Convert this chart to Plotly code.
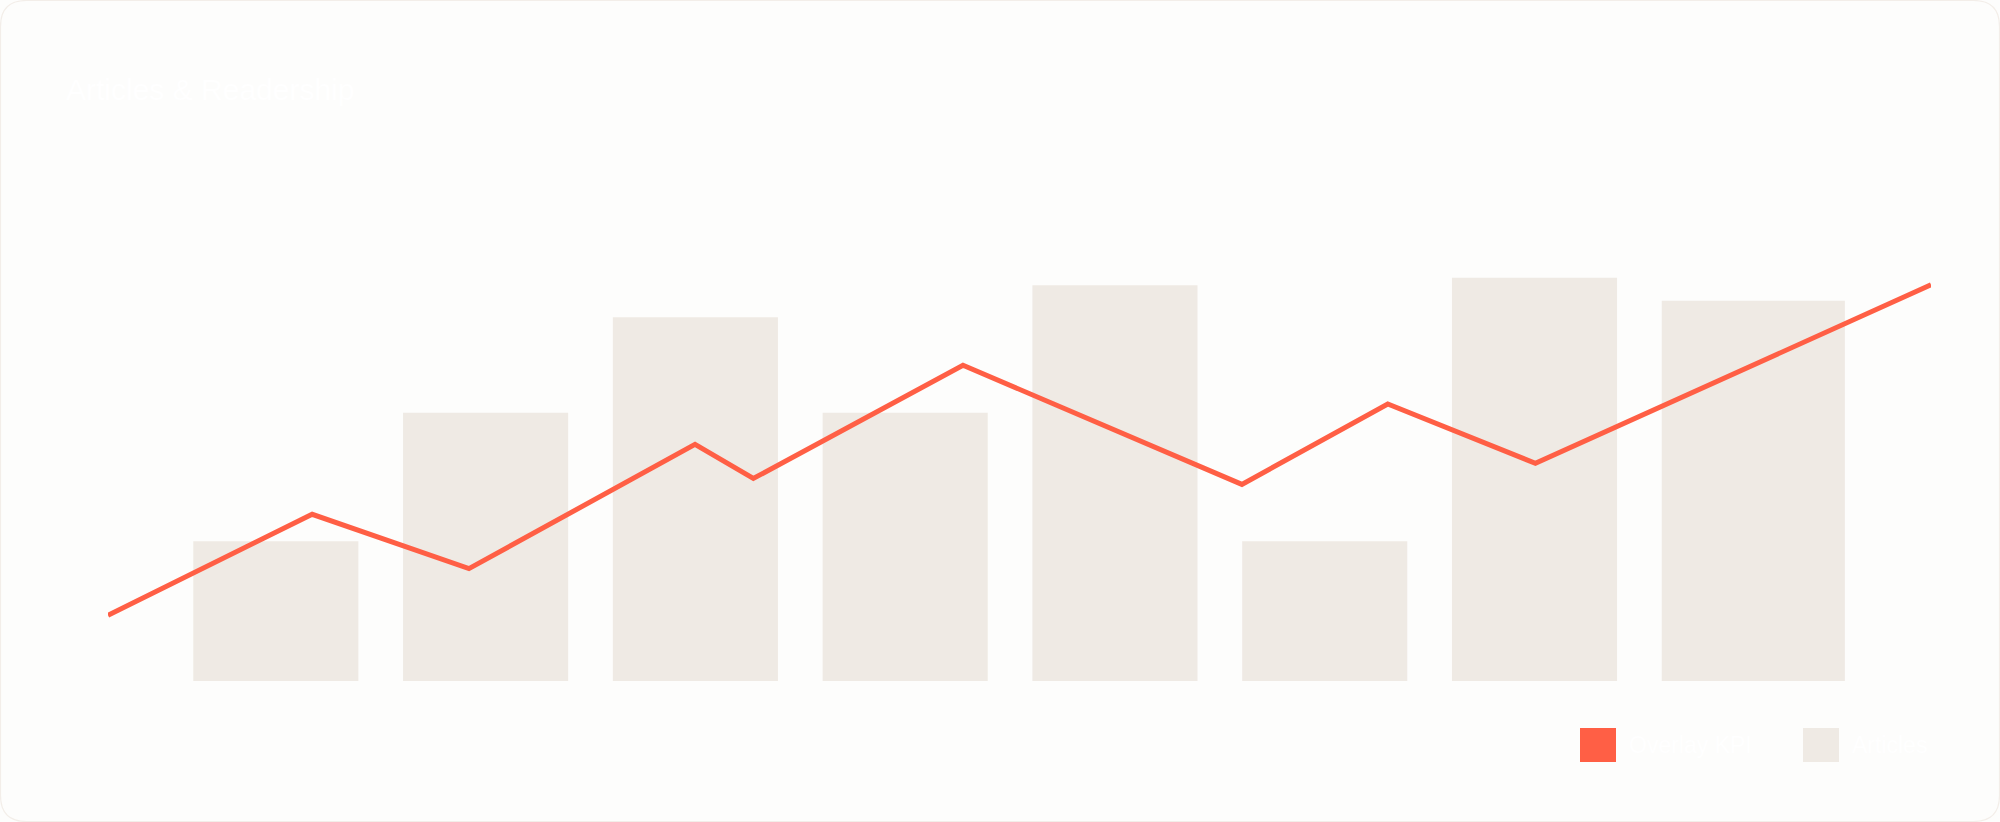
import plotly.graph_objects as go

# ---------------- data ----------------
categories = ["C1", "C2", "C3", "C4", "C5", "C6", "C7", "C8"]
articles = [33.2, 63.7, 86.4, 63.7, 94.0, 33.2, 95.8, 90.3]

kpi_x = [0, 11.2, 19.8, 32.2, 35.4, 46.9, 62.2, 70.2, 78.3, 100]
kpi_values = [15.6, 39.6, 26.7, 56.2, 48.1, 75.0, 46.7, 65.8, 51.7, 94.1]

title_text = "Articles & Readership"
legend_labels = ["Overlay KPI", "Articles"]

# ---------------- style ----------------
W, H = 2000, 822
ML, MR, MT, MB = 108, 69, 260, 141
LINE_COLOR = "#ff5f45"
BAR_COLOR = "#efeae4"
BG = "#fdfdfc"
TEXT = "#ffffff"
FONT = "Liberation Sans, Arial, sans-serif"

PW = W - ML - MR
PH = H - MT - MB

BAR_W = 0.787
bar_widths = [BAR_W] * (len(categories) - 1) + [0.873]
bar_offsets = [-BAR_W / 2] * len(categories)


def px_x(p):
    return (p - ML) / PW


def px_y(p):
    return (H - MB - p) / PH


fig = go.Figure()

fig.add_trace(go.Bar(
    x=categories, y=articles, name=legend_labels[1],
    width=bar_widths, offset=bar_offsets,
    marker=dict(color=BAR_COLOR, line=dict(width=0)),
    xaxis="x", yaxis="y", showlegend=False, hoverinfo="skip",
))

fig.add_trace(go.Scatter(
    x=kpi_x, y=kpi_values, name=legend_labels[0], mode="lines",
    line=dict(color=LINE_COLOR, width=5),
    xaxis="x2", yaxis="y2", showlegend=False, hoverinfo="skip",
))

# rounded card border
x0, y0, x1, y1, r = 0.5, 0.5, W - 0.5, H - 0.5, 26
pts = [
    ("M", (x0 + r, y0)), ("L", (x1 - r, y0)), ("Q", (x1, y0), (x1, y0 + r)),
    ("L", (x1, y1 - r)), ("Q", (x1, y1), (x1 - r, y1)),
    ("L", (x0 + r, y1)), ("Q", (x0, y1), (x0, y1 - r)),
    ("L", (x0, y0 + r)), ("Q", (x0, y0), (x0 + r, y0)),
]
path = ""
for item in pts:
    cmd = item[0]
    coords = " ".join(f"{px_x(p[0]):.5f},{px_y(p[1]):.5f}" for p in item[1:])
    path += f"{cmd}{coords} "
path += "Z"

shapes = [dict(type="path", path=path, xref="paper", yref="paper",
               line=dict(color="#f3eee9", width=1.2), fillcolor="rgba(0,0,0,0)",
               layer="below")]

# custom legend squares
leg_items = [(1580, 1616, LINE_COLOR, legend_labels[0]),
             (1803, 1839, BAR_COLOR, legend_labels[1])]
annotations = []
for xa, xb, col, lab in leg_items:
    shapes.append(dict(type="rect", xref="paper", yref="paper",
                       x0=px_x(xa), x1=px_x(xb), y0=px_y(762), y1=px_y(728),
                       fillcolor=col, line=dict(width=0), layer="above"))
    annotations.append(dict(text=lab, xref="paper", yref="paper",
                            x=px_x(xb + 11), y=px_y(745), xanchor="left", yanchor="middle",
                            showarrow=False, font=dict(family=FONT, size=23, color=TEXT)))

fig.update_layout(
    width=W, height=H,
    margin=dict(l=ML, r=MR, t=MT, b=MB, pad=0),
    paper_bgcolor=BG, plot_bgcolor=BG,
    title=dict(text=title_text, x=66 / W, xref="container", xanchor="left",
               y=1 - 89 / H, yref="container", yanchor="middle",
               font=dict(family=FONT, size=30, color=TEXT)),
    xaxis=dict(range=[-0.8, 7.89], visible=False, fixedrange=True),
    yaxis=dict(range=[0, 100], visible=False, fixedrange=True),
    xaxis2=dict(range=[0, 100], overlaying="x", visible=False),
    yaxis2=dict(range=[0, 100], overlaying="y", visible=False),
    shapes=shapes,
    annotations=annotations,
    showlegend=False,
)

fig.write_html(
    "out.html",
    config={"displayModeBar": False},
    post_script="document.body.style.margin='0';document.body.style.background='#fdfdfc';",
)
